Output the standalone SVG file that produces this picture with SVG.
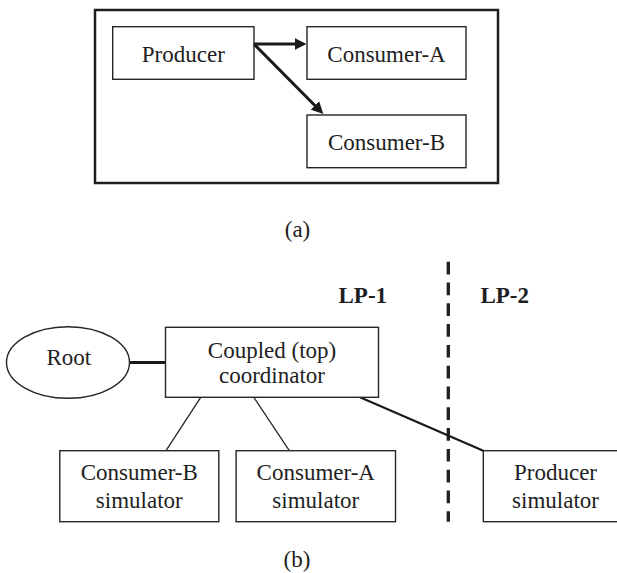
<svg xmlns="http://www.w3.org/2000/svg" width="617" height="573" viewBox="0 0 617 573">
<style>
  text { font-family: 'Liberation Serif', 'Times New Roman', Times, 'DejaVu Serif', serif; font-size: 23px; fill: #1e1e1e; text-anchor: middle; }
  .bold { font-weight: bold; }
  .box { fill: #fff; stroke: #262626; stroke-width: 1.4; }
  .frame { fill: none; stroke: #1e1e1e; stroke-width: 2.5; }
  .arrow { stroke: #1a1a1a; stroke-width: 3; fill: none; }
  .thin { stroke: #262626; stroke-width: 1.3; fill: none; }
  .thick { stroke: #1a1a1a; stroke-width: 2.2; fill: none; }
  .dash { stroke: #1e1e1e; stroke-width: 3.3; stroke-dasharray: 12.7 8.1; fill: none; }
</style>
<defs>
  <marker id="ah" viewBox="0 0 12 12" markerWidth="12" markerHeight="12" refX="6" refY="6" orient="auto" markerUnits="userSpaceOnUse">
    <path d="M0,0 L12,6 L0,12 z" fill="#1a1a1a"/>
  </marker>
</defs>
<rect fill="#fff" x="0" y="0" width="617" height="573"/>

<!-- Part (a) -->
<rect class="frame" x="95" y="10" width="403" height="173"/>
<g id="a-producer">
  <rect class="box" x="112.7" y="26.7" width="141.3" height="52.6"/>
  <text x="183.3" y="61.7" font-family="Liberation Serif, serif">Producer</text>
</g>
<g id="a-consumer-a">
  <rect class="box" x="307" y="26.7" width="159" height="52.6"/>
  <text x="386.5" y="61.7">Consumer-A</text>
</g>
<g id="a-consumer-b">
  <rect class="box" x="307" y="115" width="159" height="52.7"/>
  <text x="386.5" y="150">Consumer-B</text>
</g>
<g id="a-connectors">
  <line class="arrow" x1="254" y1="44" x2="300.5" y2="44" marker-end="url(#ah)"/>
  <line class="arrow" x1="254" y1="44" x2="319.1" y2="109.7" marker-end="url(#ah)"/>
</g>
<text x="297.5" y="236.7">(a)</text>

<!-- Part (b) -->
<g id="b-connectors">
  <line class="dash" x1="448.3" y1="261.7" x2="448.3" y2="521.7"/>
  <line class="arrow" x1="129.5" y1="362.5" x2="165.5" y2="362.5"/>
  <line class="thin" x1="200.7" y1="397.3" x2="166" y2="450.7"/>
  <line class="thin" x1="253.8" y1="397.3" x2="289.3" y2="450.7"/>
  <line class="thick" x1="360" y1="397.3" x2="483.3" y2="450.7"/>
</g>
<text class="bold" x="362.8" y="303.3">LP-1</text>
<text class="bold" x="504.7" y="303.3">LP-2</text>
<g id="b-root">
  <ellipse fill="#fff" stroke="#262626" stroke-width="1.4" cx="68" cy="362.5" rx="61.5" ry="35.8"/>
  <text x="68.8" y="365">Root</text>
</g>
<g id="b-coupled">
  <rect class="box" x="165.5" y="327.3" width="213" height="70"/>
  <text x="272" y="358.3">Coupled (top)</text>
  <text x="272" y="383.3">coordinator</text>
</g>
<g id="b-consumer-b-sim">
  <rect class="box" x="59.8" y="450.7" width="159" height="71"/>
  <text x="139.3" y="480">Consumer-B</text>
  <text x="139.3" y="507.7">simulator</text>
</g>
<g id="b-consumer-a-sim">
  <rect class="box" x="236.1" y="450.7" width="159.4" height="71"/>
  <text x="315.8" y="480">Consumer-A</text>
  <text x="315.8" y="507.7">simulator</text>
</g>
<g id="b-producer-sim">
  <rect class="box" x="483.3" y="450.7" width="140" height="71"/>
  <text x="555.5" y="480">Producer</text>
  <text x="555.5" y="507.7">simulator</text>
</g>
<text x="297" y="566.7">(b)</text>
</svg>
